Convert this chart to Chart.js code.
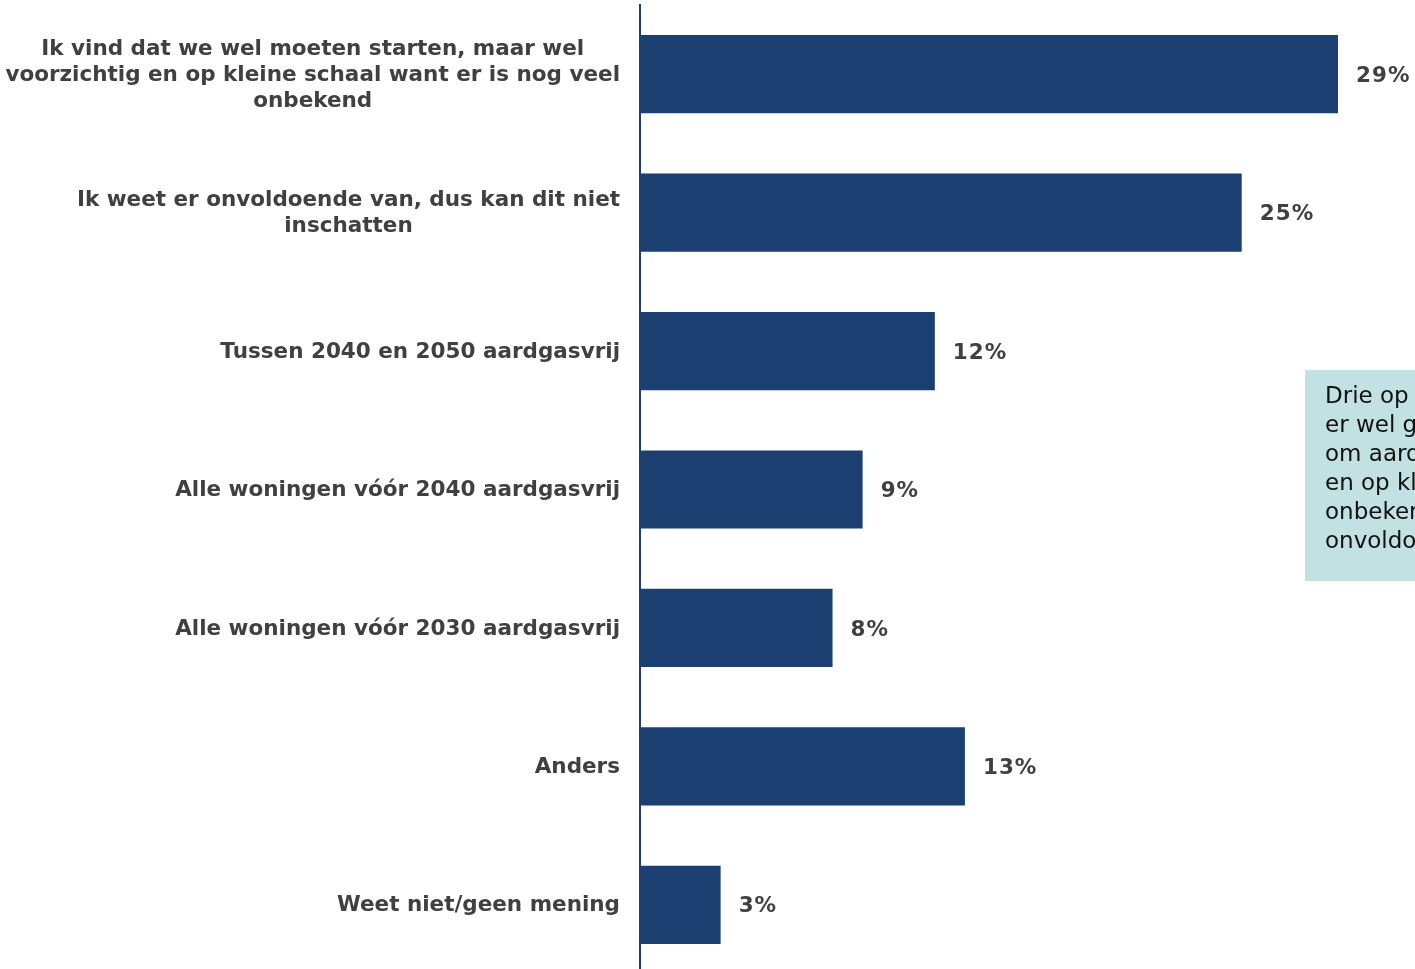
<!DOCTYPE html>
<html>
<head>
<meta charset="utf-8">
<script src="https://cdn.jsdelivr.net/npm/chart.js@4"></script>
<style>
html, body { margin: 0; background: #fff; overflow: hidden; }
#wrap { width: 1415px; height: 974px; }
</style>
</head>
<body>
<div id="wrap"><canvas id="chart"></canvas></div>
<script>
const categories = [
	['Ik vind dat we wel moeten starten, maar wel', 'voorzichtig en op kleine schaal want er is nog veel', 'onbekend'],
	['Ik weet er onvoldoende van, dus kan dit niet', 'inschatten'],
	['Tussen 2040 en 2050 aardgasvrij'],
	['Alle woningen vóór 2040 aardgasvrij'],
	['Alle woningen vóór 2030 aardgasvrij'],
	['Anders'],
	['Weet niet/geen mening']
];
const shares = [29, 25, 12.25, 9.25, 8, 13.5, 3.35];
const shareLabels = ['29%', '25%', '12%', '9%', '8%', '13%', '3%'];
const noteLines = [
	'Drie op de tien vinden dat',
	'er wel gestart moet worden',
	'om aardgasvrij te worden, maar voorzichtig',
	'en op kleine schaal want er is nog veel',
	'onbekend. Een kwart weet er',
	'onvoldoende van.'
];

const NAVY = '#1b3f70';
const TEXT = '#404040';
const LABEL_FONT = 'bold 21.5px "DejaVu Sans", Verdana, sans-serif';

const labelsPlugin = {
	id: 'sideLabels',
	afterDraw(chart) {
		const { ctx, scales } = chart;
		const y = scales.y;
		ctx.save();
		ctx.font = LABEL_FONT;
		ctx.fillStyle = TEXT;
		ctx.textAlign = 'center';
		ctx.textBaseline = 'middle';
		const lineH = 26;
		categories.forEach((lines, i) => {
			const yc = y.getPixelForValue(i) + 1;
			const widest = Math.max(...lines.map(l => ctx.measureText(l).width));
			const xc = y.right - 20 - widest / 2;
			const top = yc - (lines.length - 1) * lineH / 2;
			lines.forEach((l, j) => ctx.fillText(l, xc, top + j * lineH));
		});

		// value labels
		ctx.textAlign = 'left';
		ctx.letterSpacing = '1px';
		chart.getDatasetMeta(0).data.forEach((bar, i) => {
			ctx.fillText(shareLabels[i], bar.x + 18, bar.y + 2);
		});
		ctx.letterSpacing = '0px';

		// note box
		ctx.fillStyle = '#c2e1e2';
		ctx.fillRect(1305, 370, 120, 211);
		ctx.fillStyle = '#111';
		ctx.font = '23px "DejaVu Sans", Verdana, sans-serif';
		ctx.textBaseline = 'middle';
		noteLines.forEach((l, j) => ctx.fillText(l, 1325, 397 + j * 29));
		ctx.restore();
	}
};

new Chart(document.getElementById('chart'), {
	type: 'bar',
	data: {
		labels: categories,
		datasets: [{
			data: shares,
			backgroundColor: NAVY,
			barPercentage: 0.565,
			categoryPercentage: 1
		}]
	},
	options: {
		indexAxis: 'y',
		responsive: true,
		maintainAspectRatio: false,
		animation: false,
		layout: {
			padding: { top: 5, bottom: 0, left: 0, right: 0 }
		},
		plugins: {
			legend: { display: false },
			tooltip: { enabled: false }
		},
		scales: {
			x: {
				display: false,
				min: 0,
				max: 32.2
			},
			y: {
				ticks: { display: false },
				grid: { display: false },
				border: { color: NAVY, width: 2 },
				afterFit(scale) { scale.width = 640; }
			}
		}
	},
	plugins: [labelsPlugin]
});
</script>
</body>
</html>
